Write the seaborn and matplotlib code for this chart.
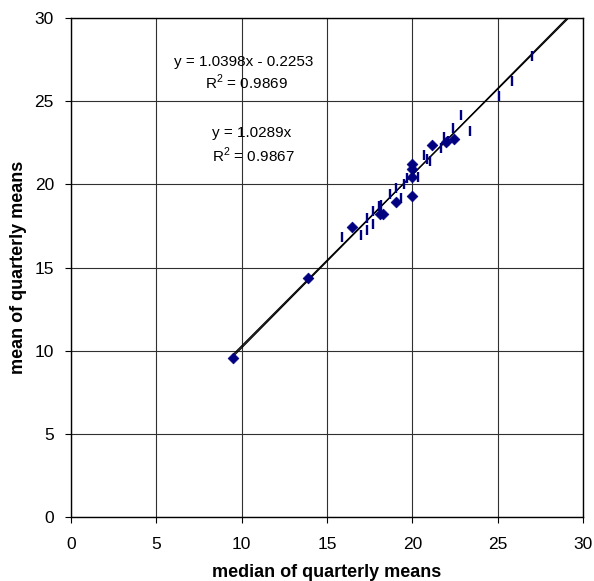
import numpy as np
import matplotlib
matplotlib.use('Agg')
import matplotlib.pyplot as plt
import seaborn as sns

#Data titik berlian (diamond)
diamond_x = [9.47, 13.9, 16.48, 18.1, 18.3, 19.02, 20.0, 20.0, 20.0, 20.0, 21.17, 21.95, 22.44]
diamond_y = [9.56, 14.4, 17.46, 18.2, 18.2, 18.94, 19.3, 20.46, 20.9, 21.2, 22.36, 22.56, 22.74]

#Data titik garis (bar)
bar_x = [15.86, 17.0, 17.36, 17.36, 17.67, 17.67, 18.02, 18.16, 18.69, 19.02, 19.33, 19.53, 19.66,
         20.33, 20.68, 20.84, 21.01, 21.68, 21.85, 22.1, 22.36, 22.86, 23.36, 25.09, 25.85, 27.0]
bar_y = [16.84, 16.96, 17.24, 17.96, 17.6, 18.4, 18.7, 18.74, 19.4, 19.76, 19.2, 20.0, 20.4,
         20.46, 21.76, 21.5, 21.4, 22.2, 22.84, 22.6, 23.4, 24.14, 23.2, 25.3, 26.2, 27.7]

#Koefisien garis trend
trend1 = (1.0398, -0.2253)
trend1_r2 = 0.9869
trend2 = (1.0289, 0.0)
trend2_r2 = 0.9867

ticks = [0, 5, 10, 15, 20, 25, 30]

sns.set_style('white')
plt.rcParams['font.family'] = ['Liberation Sans', 'DejaVu Sans']
plt.rcParams['mathtext.fontset'] = 'custom'
plt.rcParams['mathtext.rm'] = 'Liberation Sans'
plt.rcParams['text.color'] = 'black'
plt.rcParams['axes.labelcolor'] = 'black'
plt.rcParams['xtick.color'] = 'black'
plt.rcParams['ytick.color'] = 'black'

fig = plt.figure(figsize=(5.94, 5.81), dpi=100)
ax = fig.add_axes([0.1195, 0.110, 0.862, 0.859])

#Garis trend
x_line = np.array([min(diamond_x), 30])
for m, c in [trend1, trend2]:
    sns.lineplot(x=x_line, y=m * x_line + c, color='black', linewidth=0.9, ax=ax, zorder=3)

#Titik data
sns.scatterplot(x=diamond_x, y=diamond_y, marker='D', color='#000080', s=30,
                edgecolor='#000080', linewidth=0.5, ax=ax, zorder=4)
sns.scatterplot(x=bar_x, y=bar_y, marker='|', color='#000080', s=50, linewidth=1.7,
                ax=ax, zorder=4)

#Label persamaan
ax.text(10.13, 27.36, 'y = %.4fx - %.4f' % (trend1[0], -trend1[1]), ha='center', va='center', fontsize=11)
ax.text(10.25, 26.16, 'R$^2$ = %.4f' % trend1_r2, ha='center', va='center', fontsize=11)
ax.text(10.6, 23.06, 'y = %.4fx' % trend2[0], ha='center', va='center', fontsize=11)
ax.text(10.66, 21.74, 'R$^2$ = %.4f' % trend2_r2, ha='center', va='center', fontsize=11)

ax.set_xlim(0, 30)
ax.set_ylim(0, 30)
ax.set_xticks(ticks)
ax.set_yticks(ticks)
ax.grid(True, color='#303030', linewidth=0.8)
ax.set_axisbelow(True)
for s in ax.spines.values():
    s.set_color('black')
    s.set_linewidth(1.0)
ax.tick_params(axis='x', direction='out', length=4.3, width=0.8, labelsize=12.5, pad=10, bottom=True)
ax.tick_params(axis='y', direction='out', length=4.3, width=0.8, labelsize=12.5, pad=8, left=True)
ax.set_xlabel('median of quarterly means', fontsize=13, fontweight='bold', labelpad=9)
ax.set_ylabel('mean of quarterly means', fontsize=13, fontweight='bold', labelpad=5)

plt.savefig('out.png', dpi=100)
